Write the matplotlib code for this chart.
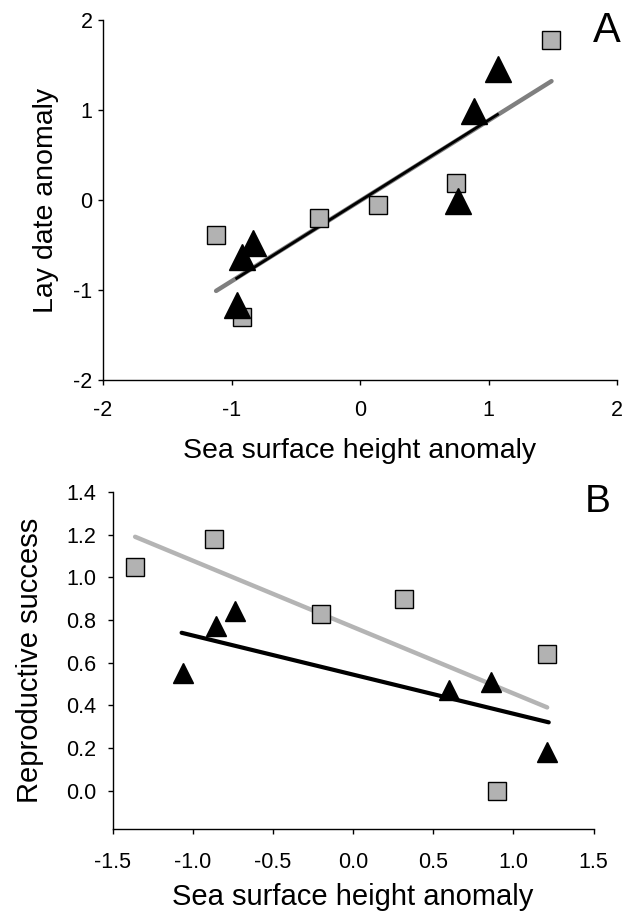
import matplotlib.pyplot as plt
import numpy as np

plt.rcParams['font.family'] = ['Liberation Sans', 'DejaVu Sans']
plt.rcParams['axes.unicode_minus'] = False

# Panel A: lay date anomaly vs sea surface height anomaly
a_sq_x = [-1.12, -0.92, -0.32, 0.14, 0.75, 1.49]
a_sq_y = [-0.39, -1.30, -0.20, -0.06, 0.19, 1.78]
a_tri_x = [-0.96, -0.92, -0.83, 0.76, 0.89, 1.07]
a_tri_y = [-1.17, -0.63, -0.48, -0.01, 0.99, 1.45]
a_gray_line_x = [-1.12, 1.49]
a_gray_line_y = [-1.01, 1.32]
a_black_line_x = [-0.96, 1.07]
a_black_line_y = [-0.87, 0.95]

# Panel B: reproductive success vs sea surface height anomaly
b_sq_x = [-1.36, -0.865, -0.20, 0.32, 1.21, 0.90]
b_sq_y = [1.05, 1.18, 0.83, 0.90, 0.64, 0.0]
b_tri_x = [-1.06, -0.855, -0.735, 0.60, 0.86, 1.21]
b_tri_y = [0.55, 0.77, 0.84, 0.47, 0.51, 0.18]
b_gray_line_x = [-1.36, 1.21]
b_gray_line_y = [1.19, 0.39]
b_black_line_x = [-1.07, 1.22]
b_black_line_y = [0.74, 0.32]

fig = plt.figure(figsize=(6.27, 9.15), dpi=100)
ax1 = fig.add_axes([0.1643, 0.5847, 0.8198, 0.3935])
ax2 = fig.add_axes([0.1797, 0.0940, 0.7671, 0.3683])

for ax in (ax1, ax2):
    ax.spines['top'].set_visible(False)
    ax.spines['right'].set_visible(False)
    ax.spines['left'].set_linewidth(1.0)
    ax.spines['bottom'].set_linewidth(1.0)
    ax.tick_params(direction='out', length=3.6, width=1, labelsize=15.5)

ax1.tick_params(axis='x', pad=11)
ax1.tick_params(axis='y', pad=4)
ax2.tick_params(axis='x', pad=13)
ax2.tick_params(axis='y', pad=8)

# A
ax1.plot(a_gray_line_x, a_gray_line_y, color='#7f7f7f', lw=3.2, solid_capstyle='round', zorder=2)
ax1.plot(a_black_line_x, a_black_line_y, color='black', lw=2.0, zorder=2)
ax1.plot(a_sq_x, a_sq_y, 's', ms=13.5, mfc='#b2b2b2', mec='black', mew=1.0, ls='none', zorder=3)
ax1.plot(a_tri_x, a_tri_y, '^', ms=19, color='black', ls='none', zorder=4)
ax1.set_xlim(-2, 2)
ax1.set_ylim(-2, 2)
ax1.set_xticks([-2, -1, 0, 1, 2])
ax1.set_yticks([-2, -1, 0, 1, 2])
ax1.set_xlabel('Sea surface height anomaly', fontsize=20.5, labelpad=12)
ax1.set_ylabel('Lay date anomaly', fontsize=20.5, labelpad=10)
fig.text(0.968, 0.954, 'A', fontsize=30, ha='center', va='baseline')

# B
ax2.plot(b_gray_line_x, b_gray_line_y, color='#b4b4b4', lw=3.2, solid_capstyle='round', zorder=2)
ax2.plot(b_black_line_x, b_black_line_y, color='black', lw=3.0, solid_capstyle='round', zorder=2)
ax2.plot(b_sq_x, b_sq_y, 's', ms=12.5, mfc='#b2b2b2', mec='black', mew=1.0, ls='none', zorder=3)
ax2.plot(b_tri_x, b_tri_y, '^', ms=15, color='black', ls='none', zorder=4)
ax2.set_xlim(-1.5, 1.5)
ax2.set_ylim(-0.18, 1.4)
ax2.set_xticks(np.arange(-1.5, 1.51, 0.5))
ax2.set_xticklabels(['-1.5', '-1.0', '-0.5', '0.0', '0.5', '1.0', '1.5'])
ax2.set_yticks(np.arange(0, 1.41, 0.2))
ax2.set_yticklabels(['0.0', '0.2', '0.4', '0.6', '0.8', '1.0', '1.2', '1.4'])
ax2.set_xlabel('Sea surface height anomaly', fontsize=21, labelpad=7)
ax2.set_ylabel('Reproductive success', fontsize=21, labelpad=16)
fig.text(0.9537, 0.4404, 'B', fontsize=28, ha='center', va='baseline')

plt.savefig('out.png', dpi=100)
